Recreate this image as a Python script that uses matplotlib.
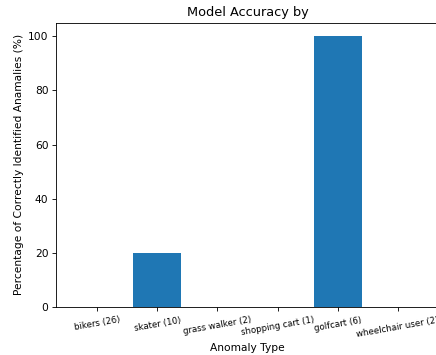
import matplotlib
matplotlib.use("Agg")
import matplotlib.pyplot as plt

categories = ["bikers (26)", "skater (10)", "grass walker (2)", "shopping cart (1)",
              "golfcart (6)", "wheelchair user (2)"]
accuracy = [0, 20, 0, 0, 100, 0]

s = 0.77
plt.rcParams["axes.linewidth"] = 0.8 * s
plt.rcParams["xtick.major.width"] = 0.8 * s
plt.rcParams["ytick.major.width"] = 0.8 * s
plt.rcParams["xtick.major.size"] = 3.5 * s
plt.rcParams["ytick.major.size"] = 3.5 * s
plt.rcParams["xtick.major.pad"] = 3.5 * s
plt.rcParams["ytick.major.pad"] = 3.5 * s

fig = plt.figure(figsize=(4.36, 3.55), dpi=100)
ax = fig.add_axes([56 / 436, 48 / 355, 383 / 436, 284.3 / 355])
x = list(range(len(categories)))
ax.bar(x, accuracy, width=0.8, color="#1f77b4")
ax.set_xticks(x)
ax.set_xticklabels(categories, rotation=10, ha="center", fontsize=6.2)
ax.tick_params(axis="x", pad=4.5 * s)
ax.tick_params(axis="y", labelsize=10 * s)
ax.set_ylabel("Percentage of Correctly Identified Anamalies (%)", fontsize=10 * s,
              labelpad=4 * s)
ax.set_xlabel("Anomaly Type", fontsize=10 * s, labelpad=4 * s)
ax.set_title("Model Accuracy by", fontsize=12 * s, pad=6 * s)
fig.savefig("out.png", dpi=100)
